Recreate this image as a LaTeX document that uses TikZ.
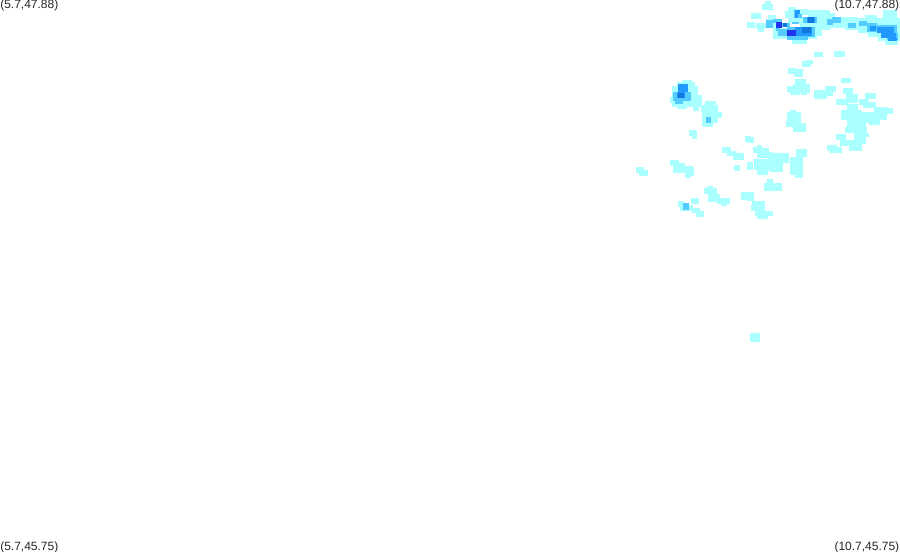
\documentclass[tikz,border=0pt]{standalone}
\usepackage{fontspec}
\setmainfont{Liberation Sans}
\definecolor{cellpale}{HTML}{AAFFFF}
\definecolor{cellsky}{HTML}{55CCFF}
\definecolor{cellblue}{HTML}{2299FF}
\definecolor{celldark}{HTML}{1177DD}
\definecolor{celldeep}{HTML}{2233EE}
\tikzset{cornerlabel/.style={font=\fontsize{9pt}{10pt}\selectfont, inner sep=0pt, text=black!85}}
\begin{document}
\begin{tikzpicture}[x=0.75pt, y=-0.75pt]
		%%%%% START %%%%%
		\useasboundingbox (0, 0) rectangle (900, 552);
		
		% top band
		\foreach \xa/\ya/\xb/\yb in {765/1/771/5, 762/4/773/10, 751/13/761/19, 747/22/755/28, 756/23/766/29, 758/28/764/32, 768/15/776/23, 766/19/779/28, 788/7/796/12, 785/11/795/18, 788/17/820/23, 797/9/808/15, 808/10/830/23, 800/22/830/30, 813/30/822/36, 773/28/817/39, 792/39/807/44, 825/13/835/17, 825/17/858/28, 845/22/868/30, 858/18/892/23, 865/15/877/20, 883/10/897/18, 888/18/900/30, 858/23/900/33, 868/30/900/37, 878/35/900/41, 885/40/898/45, 814/52/823/57, 834/51/845/57}
			\fill[cellpale] (\xa, \ya) rectangle (\xb, \yb);
		
		% right cluster
		\foreach \xa/\ya/\xb/\yb in {802/61/811/67, 806/60/813/64, 788/68/796/74, 794/69/803/77, 795/79/806/84, 787/86/793/92, 793/84/810/93, 790/92/800/95, 801/92/807/95, 814/90/827/99, 825/86/836/92, 826/92/833/96, 841/78/851/83, 843/88/853/94, 846/94/858/103, 836/99/848/105, 865/93/876/99, 859/99/869/105, 863/102/876/108, 847/104/858/110, 841/110/862/120, 862/112/880/123, 874/107/887/120, 880/108/893/114, 869/120/880/125, 847/120/866/128, 845/127/867/133, 854/133/869/137, 854/136/866/144, 836/134/846/140, 840/140/854/146, 849/143/862/151, 790/110/796/113, 787/112/801/123, 786/121/795/127, 793/123/806/132, 799/124/806/132, 827/145/837/151, 830/147/842/153, 796/149/807/157, 780/153/789/159, 790/157/803/160}
			\fill[cellpale] (\xa, \ya) rectangle (\xb, \yb);
		
		% left blob
		\foreach \xa/\ya/\xb/\yb in {682/80/692/82, 677/82/695/86, 672/86/698/95, 672/95/702/103, 670/97/677/103, 672/103/687/107, 677/107/687/109, 687/98/702/107, 693/107/699/111, 705/101/716/108, 701/105/718/112, 702/112/722/118, 702/118/718/123, 702/123/713/127}
			\fill[cellpale] (\xa, \ya) rectangle (\xb, \yb);
		
		% middle cluster
		\foreach \xa/\ya/\xb/\yb in {689/130/697/136, 692/135/697/139, 745/136/751/142, 747/137/754/143, 722/147/731/153, 727/151/737/156, 733/153/744/160, 753/147/762/153, 757/145/762/148, 757/148/769/158, 768/152/773/160, 773/153/789/163, 783/158/789/163, 747/162/753/170, 754/159/773/170, 757/170/768/175, 769/163/783/172, 790/158/803/170, 796/149/807/157, 800/155/803/160, 790/169/803/175, 795/175/803/178, 670/160/679/166, 673/163/685/173, 677/166/693/172, 685/167/694/176, 685/175/691/178, 636/167/644/173, 639/170/648/176, 734/165/740/171, 767/179/773/183, 764/183/782/191, 704/188/717/194, 707/186/713/189, 708/194/720/202, 717/198/730/204, 721/204/727/206, 741/192/754/200, 747/198/754/201, 752/201/765/211, 751/205/763/211, 755/211/773/216, 757/216/768/219, 678/201/684/207, 680/205/693/211, 691/198/699/204, 692/208/700/213, 696/211/704/217, 750/333/760/342}
			\fill[cellpale] (\xa, \ya) rectangle (\xb, \yb);
		
		% sky cells
		\foreach \xa/\ya/\xb/\yb in {766/20/773/28, 773/19/782/23, 782/23/790/27, 778/29/787/36, 776/27/780/31, 787/27/815/37, 787/36/808/40, 794/10/800/15, 794/14/802/18, 792/22/799/24, 803/17/817/23, 827/19/833/25, 832/17/841/23, 848/23/856/28, 859/21/867/26, 867/23/877/32, 877/25/897/33, 887/33/898/40, 706/117/711/123, 683/203/689/210, 673/92/691/101, 675/100/683/104}
			\fill[cellsky] (\xa, \ya) rectangle (\xb, \yb);
		
		% blue cells
		\foreach \xa/\ya/\xb/\yb in {795/10/800/14, 795/14/798/18, 807/17/815/23, 795/27/812/36, 870/26/876/31, 877/27/894/33, 881/33/896/38, 888/38/897/41, 678/84/688/92, 677/92/685/98}
			\fill[cellblue] (\xa, \ya) rectangle (\xb, \yb);
		
		% dark cells
		\foreach \xa/\ya/\xb/\yb in {808/17/814/23, 802/27/811/33, 783/23/787/27, 678/93/684/98}
			\fill[celldark] (\xa, \ya) rectangle (\xb, \yb);
		
		% deepest cells
		\foreach \xa/\ya/\xb/\yb in {776/22/782/28, 787/30/796/36}
			\fill[celldeep] (\xa, \ya) rectangle (\xb, \yb);
		
		\node[cornerlabel, anchor=west] (labelnw) at (0, 5.5) {(5.7,47.88)};
		\node[cornerlabel, anchor=east] (labelne) at (899.5, 5.5) {(10.7,47.88)};
		\node[cornerlabel, anchor=west] (labelsw) at (0, 547.5) {(5.7,45.75)};
		\node[cornerlabel, anchor=east] (labelse) at (899.5, 547.5) {(10.7,45.75)};
		
		%%%%% END %%%%%
	\end{tikzpicture}
\end{document}
